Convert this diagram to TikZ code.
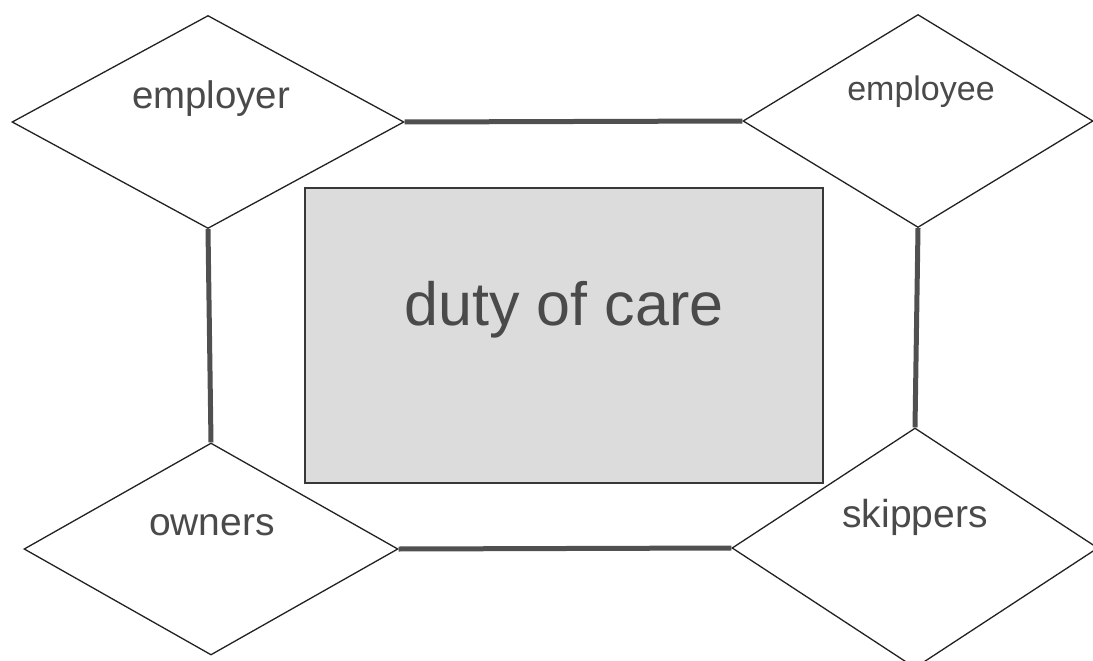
\documentclass[tikz,border=0pt]{standalone}
\usepackage{fontspec}
\setmainfont{Liberation Sans}
\usetikzlibrary{shapes.geometric}
\definecolor{txt}{HTML}{4A4A4A}
\definecolor{linkc}{HTML}{505050}
\definecolor{edge}{HTML}{222222}
\definecolor{boxfill}{HTML}{DCDCDC}
\tikzset{
  party/.style={diamond, draw=edge, line width=1.3pt, fill=white, inner sep=0pt, minimum width=#1},
  lbl/.style={anchor=base, text=txt, inner sep=0pt},
  link/.style={draw=linkc, line width=5pt},
}
\begin{document}
\begin{tikzpicture}[x=1pt,y=-1pt]
\useasboundingbox[fill=white] (0,0) rectangle (1093,661);
\node[party=392, minimum height=213] (employer) at (208,122) {};
\node[party=350, minimum height=213] (employee) at (918,121) {};
\node[party=374, minimum height=212] (owners) at (211,549) {};
\node[party=366, minimum height=240] (skippers) at (915,548) {};
% links
\draw[link] (employer.east) -- (employee.west);
\draw[link] (employer.south) -- (owners.north);
\draw[link] (employee.south) -- (skippers.north);
\draw[link] (owners.east) -- (skippers.west);
% central box
\node[draw=edge!90, line width=2pt, fill=boxfill, minimum width=518, minimum height=295, inner sep=0pt] (duty) at (563.5,335.5) {};
\node[lbl, font=\fontsize{61}{61}\selectfont] (dutytxt) at (564,325) {duty of care};
% labels
\node[lbl, font=\fontsize{38.4}{38.4}\selectfont] (employertxt) at (211,108) {employer};
\node[lbl, font=\fontsize{34}{34}\selectfont] (employeetxt) at (921,100) {employee};
\node[lbl, font=\fontsize{39}{39}\selectfont] (ownerstxt) at (212,535) {owners};
\node[lbl, font=\fontsize{39}{39}\selectfont] (skipperstxt) at (915,527) {skippers};
\end{tikzpicture}
\end{document}
